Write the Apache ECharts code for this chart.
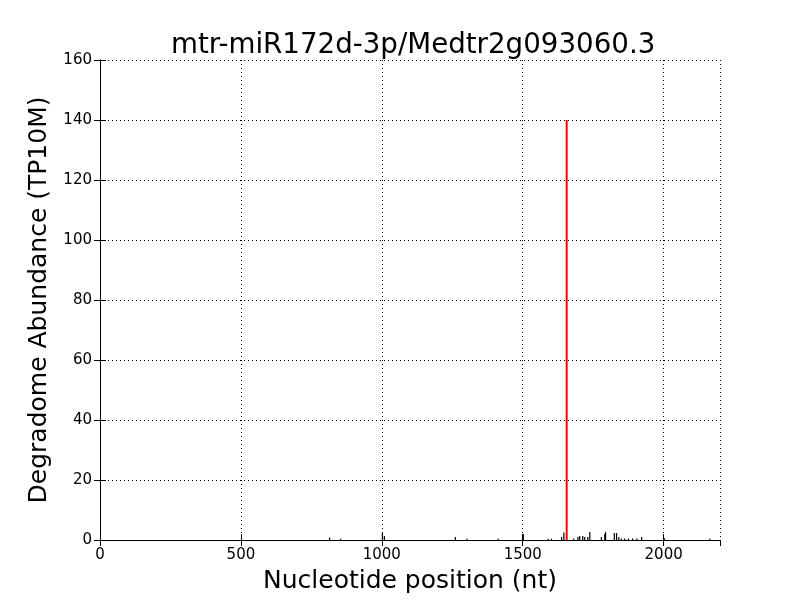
<!DOCTYPE html>
<html><head><meta charset="utf-8">
<script src="https://cdn.jsdelivr.net/npm/echarts@6/dist/echarts.min.js"></script>
<style>html,body{margin:0;padding:0;background:#fff}#c{width:800px;height:600px}</style>
</head><body><div id="c"></div>
<script>
const positions = [815, 854, 1002, 1009, 1261, 1302, 1413, 1502, 1590, 1602, 1638, 1646, 1681, 1696, 1702, 1713, 1720, 1731, 1738, 1779, 1791, 1794, 1825, 1833, 1841, 1850, 1862, 1875, 1890, 1905, 1922, 2002, 2164];
const abundances = [0.8, 0.4, 2.3, 1.3, 1.0, 0.4, 0.4, 2.0, 0.4, 0.4, 1.0, 2.5, 0.5, 1.0, 1.3, 1.3, 1.0, 1.0, 2.7, 1.0, 2.0, 2.7, 2.3, 2.3, 1.0, 0.5, 0.5, 0.5, 0.5, 0.5, 1.0, 0.7, 0.4];
const targetPos = [1656];
const targetVal = [140];
const title = 'mtr-miR172d-3p/Medtr2g093060.3';
const xTickLabels = ['0', '500', '1000', '1500', '2000'];

const blackData = positions.map((p, i) => [p, abundances[i]]);
const redData = targetPos.map((p, i) => [p, targetVal[i]]);

function lineRender(color, width) {
  return function (params, api) {
    const top = api.coord([api.value(0), api.value(1)]);
    const bot = api.coord([api.value(0), 0]);
    return {type: 'line', shape: {x1: top[0], y1: top[1], x2: bot[0], y2: bot[1]},
      style: {stroke: color, lineWidth: width}};
  };
}
const font = 'DejaVu Sans';
const chart = echarts.init(document.getElementById('c'));
const gridLine = {show: true, lineStyle: {color: '#000', type: [1, 3], width: 1}};
chart.setOption({
  animation: false,
  title: {text: title, left: 166, top: 27, textStyle: {fontFamily: font, fontSize: 27.7, fontWeight: 'normal', color: '#000'}},
  grid: {left: 100, right: 80, top: 60, bottom: 60},
  xAxis: [{
    type: 'value', min: 0, max: 2200, interval: 500,
    name: 'Nucleotide position (nt)', nameLocation: 'middle', nameGap: 29,
    nameTextStyle: {fontFamily: font, fontSize: 25, color: '#000'},
    axisLine: {show: true, onZero: false, lineStyle: {color: '#000'}},
    axisTick: {inside: true, length: 6, lineStyle: {color: '#000'}},
    axisLabel: {fontFamily: font, fontSize: 15, color: '#000', margin: 8,
      showMaxLabel: false,
      formatter: v => { const s = String(v); return xTickLabels.includes(s) ? s : ''; }},
    splitLine: gridLine
  }, {
    type: 'value', min: 0, max: 2200, interval: 500, position: 'top',
    axisLine: {show: true, lineStyle: {color: '#000'}},
    axisTick: {inside: true, length: 6, lineStyle: {color: '#000'}},
    axisLabel: {show: false}, splitLine: {show: false}
  }],
  yAxis: [{
    type: 'value', min: 0, max: 160, interval: 20,
    name: 'Degradome Abundance (TP10M)', nameLocation: 'middle', nameGap: 46,
    nameTextStyle: {fontFamily: font, fontSize: 25, color: '#000'},
    axisLine: {show: true, onZero: false, lineStyle: {color: '#000'}},
    axisTick: {inside: true, length: 6, lineStyle: {color: '#000'}},
    axisLabel: {fontFamily: font, fontSize: 15, color: '#000', margin: 8},
    splitLine: gridLine
  }, {
    type: 'value', min: 0, max: 160, interval: 20, position: 'right',
    axisLine: {show: true, lineStyle: {color: '#000'}},
    axisTick: {inside: true, length: 6, lineStyle: {color: '#000'}},
    axisLabel: {show: false}, splitLine: {show: false}
  }],
  series: [
    {type: 'custom', renderItem: lineRender('#000', 1.2), data: blackData, encode: {x: 0, y: 1}, clip: true},
    {type: 'custom', renderItem: lineRender('#ff0000', 2), data: redData, encode: {x: 0, y: 1}, clip: true}
  ]
});
</script></body></html>
